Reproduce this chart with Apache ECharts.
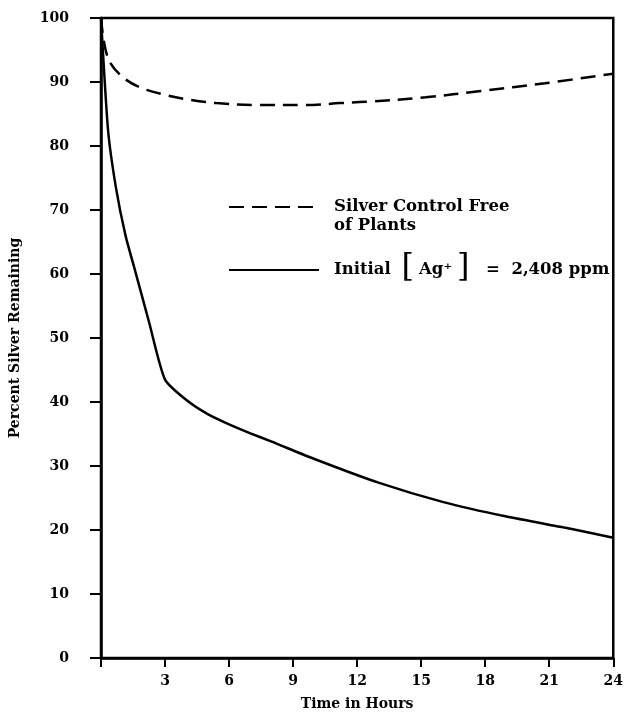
<!DOCTYPE html>
<html><head><meta charset="utf-8">
<script src="https://cdn.jsdelivr.net/npm/echarts@6/dist/echarts.min.js"></script>
<style>html,body{margin:0;padding:0;background:#fff}#c{width:626px;height:716px}</style>
</head><body><div id="c"></div>
<script>
// Time in hours
const controlTime = [0, 0.3, 0.9, 1.8, 3, 4.2, 5.4, 7.3, 9.6, 11.2, 12.4, 15.2, 17.8, 20.8, 24];
const controlPct  = [100, 94, 91.1, 89.2, 88, 87.2, 86.7, 86.4, 86.4, 86.7, 86.9, 87.6, 88.6, 89.8, 91.3];
const plantTime = [0, 0.33, 0.7, 1.15, 1.6, 2.25, 3, 4, 5, 6, 7, 8, 10, 13, 16, 19, 22, 24];
const plantPct  = [100, 82.5, 73.5, 66, 60.5, 52.5, 43.5, 40.3, 38.1, 36.5, 35.1, 33.8, 31.1, 27.4, 24.4, 22.1, 20.2, 18.8];
const xTickLabels = ['3', '6', '9', '12', '15', '18', '21', '24'];
const yTickLabels = ['0', '10', '20', '30', '40', '50', '60', '70', '80', '90', '100'];
const controlName = 'Silver Control Free of Plants';
const plantName = 'Initial [Ag+] = 2,408 ppm';
const xTitle = 'Time in Hours';
const yTitle = 'Percent Silver Remaining';

const FONT = 'DejaVu Serif';
const chart = echarts.init(document.getElementById('c'), null, {renderer: 'canvas'});
const pair = (xs, ys) => xs.map((x, i) => [x, ys[i]]);
const rich = {
  t: {fontFamily: FONT, fontWeight: 'bold', fontSize: 16.5, color: '#000', lineHeight: 19},
  g: {width: 10, fontSize: 16, lineHeight: 19},
  e: {fontSize: 16, lineHeight: 19},
  b: {fontFamily: FONT, fontSize: 32, color: '#000', padding: [0, 5, 4, 5]}
};
chart.setOption({
  animation: false,
  backgroundColor: '#fff',
  grid: {left: 99, right: 6, top: 18, bottom: 58, show: true, borderColor: '#000', borderWidth: 2.5},
  xAxis: {
    type: 'value', min: 0, max: 24, interval: 3,
    name: xTitle, nameLocation: 'middle', nameGap: 39,
    nameTextStyle: {fontFamily: FONT, fontWeight: 'bold', fontSize: 14, color: '#000'},
    axisLine: {show: true, lineStyle: {color: '#000', width: 2.5}},
    axisTick: {show: true, length: 9, lineStyle: {color: '#000', width: 2}},
    axisLabel: {margin: 16, fontFamily: FONT, fontWeight: 'bold', fontSize: 14, color: '#000',
      formatter: v => { const s = String(v); return xTickLabels.includes(s) ? s : ''; }},
    splitLine: {show: false}
  },
  yAxis: {
    type: 'value', min: 0, max: 100, interval: 10,
    name: yTitle, nameLocation: 'middle', nameGap: 79,
    nameTextStyle: {fontFamily: FONT, fontWeight: 'bold', fontSize: 14, color: '#000'},
    axisLine: {show: true, lineStyle: {color: '#000', width: 2.5}},
    axisTick: {show: true, length: 11, lineStyle: {color: '#000', width: 2}},
    axisLabel: {margin: 32, fontFamily: FONT, fontWeight: 'bold', fontSize: 14, color: '#000',
      formatter: v => { const s = String(v); return yTickLabels.includes(s) ? s : ''; }},
    splitLine: {show: false}
  },
  legend: [
    {data: [controlName], left: 228, top: 180, padding: 0, itemWidth: 90, itemHeight: 14,
     itemStyle: {opacity: 0}, inactiveColor: '#000',
     formatter: () => '{e| }\n{g| }{t|Silver Control Free}\n{g| }{t|of Plants}',
     textStyle: {rich: rich}},
    {data: [plantName], left: 228, top: 252, padding: 0, itemWidth: 90, itemHeight: 14,
     itemStyle: {opacity: 0}, inactiveColor: '#000',
     formatter: () => '{g| }{t|Initial }{b|[}{t|Ag⁺}{b|]}{t|  =  2,408 ppm}',
     textStyle: {rich: rich}}
  ],
  series: [
    {name: controlName, type: 'line', data: pair(controlTime, controlPct), symbol: 'none',
     smooth: 0.35, lineStyle: {color: '#000', width: 2.5, type: [15, 8]}, itemStyle: {color: '#000'}},
    {name: plantName, type: 'line', data: pair(plantTime, plantPct), symbol: 'none',
     smooth: 0.2, lineStyle: {color: '#000', width: 2.5, type: 'solid'}, itemStyle: {color: '#000'}}
  ]
});
</script></body></html>
